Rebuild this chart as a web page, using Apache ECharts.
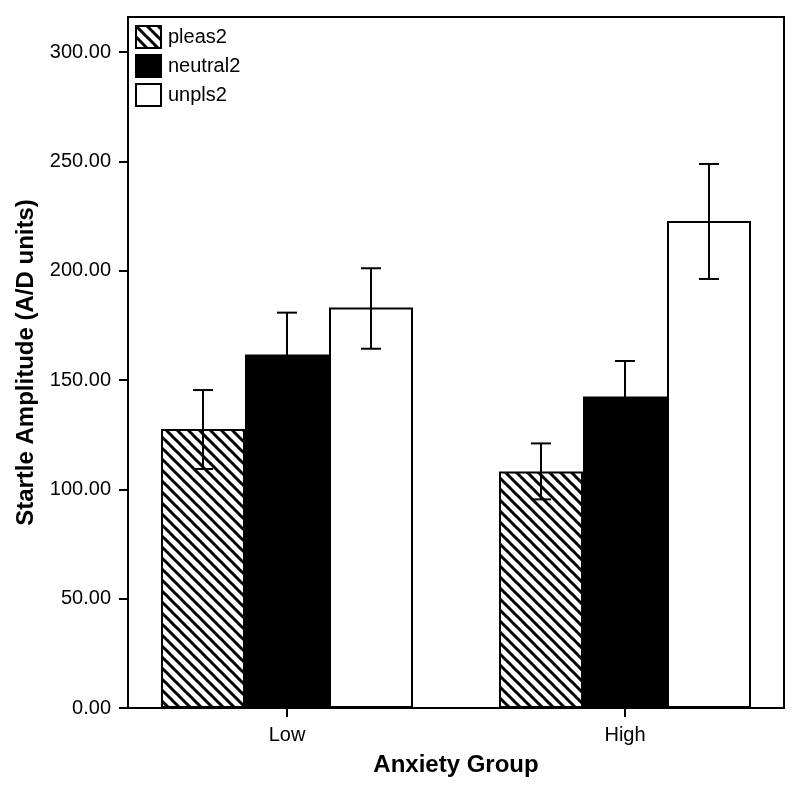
<!DOCTYPE html>
<html>
<head>
<meta charset="utf-8">
<script src="https://cdn.jsdelivr.net/npm/echarts@6/dist/echarts.min.js"></script>
<style>html,body{margin:0;padding:0;background:#fff}#chart{width:800px;height:786px}</style>
</head>
<body>
<div id="chart"></div>
<script>
// ---- data ----
var categories = ['Low', 'High'];
var seriesNames = ['pleas2', 'neutral2', 'unpls2'];
var pleas2 = [127.6, 108.2];
var neutral2 = [161.7, 142.4];
var unpls2 = [183.1, 222.7];
var pleas2Lower = [109.3, 95.4];
var pleas2Upper = [145.4, 121.0];
var neutral2Lower = [142.6, 126.1];
var neutral2Upper = [180.8, 158.7];
var unpls2Lower = [164.3, 196.2];
var unpls2Upper = [201.1, 248.8];
var yTicks = [0, 50, 100, 150, 200, 250, 300];

// ---- styling helpers ----
function hatchPattern() {
  var c = document.createElement('canvas');
  var s = 11;
  c.width = s; c.height = s;
  var ctx = c.getContext('2d');
  ctx.fillStyle = '#fff';
  ctx.fillRect(0, 0, s, s);
  ctx.strokeStyle = '#000';
  ctx.lineWidth = 3;
  for (var k = -1; k <= 1; k++) {
    ctx.beginPath();
    ctx.moveTo(k * s - 2, -2);
    ctx.lineTo(k * s + s + 2, s + 2);
    ctx.stroke();
  }
  return { image: c, repeat: 'repeat' };
}

var BAR_W = 84;
var LW = 2;
var fonts = '"Liberation Sans", Arial, Helvetica, sans-serif';
var values = [pleas2, neutral2, unpls2];
var lowers = [pleas2Lower, neutral2Lower, unpls2Lower];
var uppers = [pleas2Upper, neutral2Upper, unpls2Upper];
var fills = [hatchPattern(), '#000', '#fff'];

var series = [];
seriesNames.forEach(function (name, si) {
  series.push({
    name: name,
    type: 'bar',
    barWidth: BAR_W,
    barGap: '0%',
    data: values[si].map(function (v, i) { return [i, v]; }),
    itemStyle: { color: fills[si], borderColor: '#000', borderWidth: LW },
    emphasis: { disabled: true },
    z: 2
  });
});
seriesNames.forEach(function (name, si) {
  var off = (si - 1) * BAR_W;
  series.push({
    type: 'custom',
    name: name + '_err',
    data: lowers[si].map(function (lo, i) { return [i, lo, uppers[si][i]]; }),
    z: 5,
    silent: true,
    renderItem: function (params, api) {
      var p1 = api.coord([api.value(0), api.value(1)]);
      var p2 = api.coord([api.value(0), api.value(2)]);
      var x = p1[0] + off;
      var hw = 10;
      var st = { stroke: '#000', lineWidth: LW };
      return {
        type: 'group',
        children: [
          { type: 'line', shape: { x1: x, y1: p1[1], x2: x, y2: p2[1] }, style: st },
          { type: 'line', shape: { x1: x - hw, y1: p1[1], x2: x + hw, y2: p1[1] }, style: st },
          { type: 'line', shape: { x1: x - hw, y1: p2[1], x2: x + hw, y2: p2[1] }, style: st }
        ]
      };
    }
  });
});

var chart = echarts.init(document.getElementById('chart'), null, { renderer: 'canvas' });
chart.setOption({
  animation: false,
  backgroundColor: '#fff',
  textStyle: { fontFamily: fonts },
  grid: {
    left: 128, right: 16, top: 17, bottom: 78,
    show: true, borderColor: '#000', borderWidth: LW, backgroundColor: 'transparent'
  },
  legend: {
    data: seriesNames,
    orient: 'vertical',
    left: 135, top: 25,
    padding: 0,
    itemWidth: 25, itemHeight: 22, itemGap: 5,
    icon: 'rect',
    selectedMode: false,
    itemStyle: { borderWidth: LW, borderColor: '#000' },
    textStyle: { fontFamily: fonts, fontSize: 20, lineHeight: 22, color: '#000', padding: [0, 0, 0, 2] }
  },
  xAxis: {
    type: 'value',
    min: -0.4704, max: 1.4704,
    splitLine: { show: false },
    axisLine: { show: true, onZero: false, lineStyle: { color: '#000', width: LW } },
    axisTick: { show: true, length: 9, customValues: [0, 1], lineStyle: { color: '#000', width: LW } },
    axisLabel: {
      customValues: [0, 1],
      formatter: function (v) { return categories[Math.round(v)]; },
      margin: 17, fontSize: 20, color: '#000', fontFamily: fonts
    },
    name: 'Anxiety Group',
    nameLocation: 'middle',
    nameGap: 45,
    nameTextStyle: { fontSize: 24, fontWeight: 'bold', color: '#000', fontFamily: fonts }
  },
  yAxis: {
    type: 'value',
    min: 0, max: 316,
    splitLine: { show: false },
    axisLine: { show: true, onZero: false, lineStyle: { color: '#000', width: LW } },
    axisTick: { show: true, length: 9, customValues: yTicks, lineStyle: { color: '#000', width: LW } },
    axisLabel: {
      customValues: yTicks,
      formatter: function (v) { return v.toFixed(2); },
      margin: 17, fontSize: 20, color: '#000', fontFamily: fonts
    },
    name: 'Startle Amplitude (A/D units)',
    nameLocation: 'middle',
    nameGap: 90,
    nameTextStyle: { fontSize: 24, fontWeight: 'bold', color: '#000', fontFamily: fonts }
  },
  series: series
});
</script>
</body>
</html>
